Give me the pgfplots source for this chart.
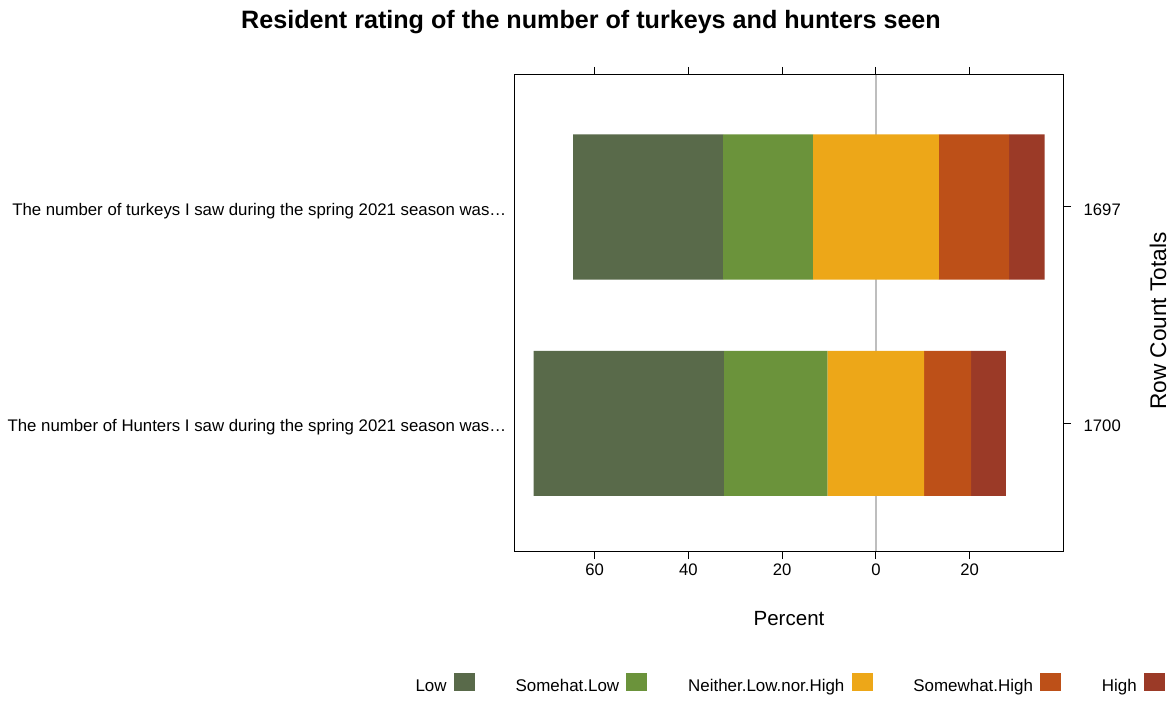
\documentclass[border=0pt]{standalone}
\usepackage{fontspec}
\setmainfont{Liberation Sans}
\usepackage{pgfplots}
\pgfplotsset{compat=1.18}

\definecolor{clow}{HTML}{596A4A}
\definecolor{csl}{HTML}{6B933B}
\definecolor{cneu}{HTML}{EDA718}
\definecolor{csh}{HTML}{BD5018}
\definecolor{chigh}{HTML}{9B3A27}
\definecolor{zline}{HTML}{BEBEBE}

\pgfplotsset{
  common/.style={
    width=411pt, height=357pt, scale only axis,
    xmin=-77.0, xmax=39.9, ymin=0.41, ymax=2.61,
    at={(0,0)}, anchor=south west,
  },
  bars/.style={
    common, xbar stacked, bar width=0.671,
    axis line style={draw=none}, xtick=\empty,
  },
}

\begin{document}
\begin{tikzpicture}
\useasboundingbox (-386.25pt,-111.75pt) rectangle (493.5pt,413.25pt);

% frame, ticks, labels, zero line
\begin{axis}[common,
  xtick={-60,-40,-20,0,20}, xticklabels={60,40,20,0,20},
  xtick pos=both, xticklabel pos=lower,
  ytick={1,2}, yticklabels={1700,1697},
  ytick pos=right, yticklabel pos=right,
  tick align=outside, major tick length=6pt,
  tick style={black, line width=0.75pt},
  axis line style={line width=0.75pt},
  ticklabel style={font=\fontsize{12.5}{15}\selectfont},
  yticklabel style={xshift=6pt, yshift=-2pt},
  xlabel={Percent}, ylabel={Row Count Totals},
  xlabel style={font=\fontsize{15.4}{18}\selectfont, at={(axis description cs:0.5,-0.1429)}, anchor=center},
  ylabel style={font=\fontsize{17}{20}\selectfont, at={(axis description cs:1.1734,0.483)}, anchor=center},
  title={Resident rating of the number of turkeys and hunters seen},
  title style={font=\bfseries\fontsize{18.85}{22}\selectfont, at={(axis description cs:0.1387,1.1155)}, anchor=center, yshift=-7.5pt},
]
\addplot[zline, line width=1pt, forget plot] coordinates {(0,0.41) (0,2.61)};
\end{axis}

% left side of the bars (from the centre outward)
\begin{axis}[bars,
  ytick={1,2},
  yticklabels={The number of Hunters I saw during the spring 2021 season was…, The number of turkeys I saw during the spring 2021 season was…},
  ytick pos=left, major tick length=0pt,
  yticklabel style={font=\fontsize{12.6}{15}\selectfont, xshift=-3pt, yshift=-3pt},
]
\addplot[fill=cneu, draw=none] coordinates {(-10.3,1) (-13.4,2)};
\addplot[fill=csl, draw=none] coordinates {(-22.1,1) (-19.2,2)};
\addplot[fill=clow, draw=none] coordinates {(-40.6,1) (-32.0,2)};
\end{axis}

% right side of the bars + legend
\begin{axis}[bars, ytick=\empty,
  legend columns=5,
  legend plot pos=right,
  legend style={at={(0.5,-0.2815)}, anchor=center, draw=none, fill=none,
    font=\fontsize{12.7}{15}\selectfont,
    /tikz/every odd column/.append style={column sep=3.5pt},
    /tikz/every even column/.append style={column sep=28.5pt}},
  legend image code/.code={\fill[#1] (0pt,-3.5pt) rectangle (15.75pt,10pt);},
]
\addplot[fill=cneu, draw=none, forget plot] coordinates {(10.3,1) (13.4,2)};
\addplot[fill=csh, draw=none, forget plot] coordinates {(10.0,1) (15.0,2)};
\addplot[fill=chigh, draw=none, forget plot] coordinates {(7.4,1) (7.6,2)};
\addlegendimage{fill=clow, draw=none}
\addlegendentry{Low}
\addlegendimage{fill=csl, draw=none}
\addlegendentry{Somehat.Low}
\addlegendimage{fill=cneu, draw=none}
\addlegendentry{Neither.Low.nor.High}
\addlegendimage{fill=csh, draw=none}
\addlegendentry{Somewhat.High}
\addlegendimage{fill=chigh, draw=none}
\addlegendentry{High}
\end{axis}
\end{tikzpicture}
\end{document}
